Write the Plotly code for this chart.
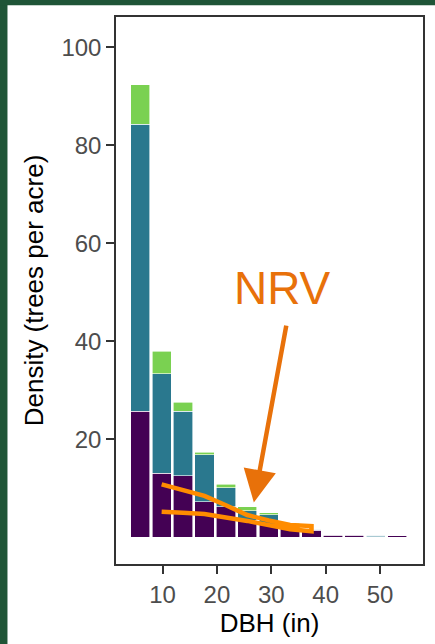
import plotly.graph_objects as go

# DBH bin centers (10 cm classes expressed in inches)
dbh_cm = [15, 25, 35, 45, 55, 65, 75, 85, 95, 105, 115, 125, 135]
dbh_in = [c / 2.54 for c in dbh_cm]

purple_vals = [25.7, 13.0, 12.5, 7.2, 6.2, 3.4, 2.5, 1.7, 1.4, 0.35, 0.35, 0.1, 0.3]
teal_vals = [58.6, 20.3, 13.2, 9.6, 3.85, 2.0, 2.1, 1.05, 0.2, 0.15, 0.15, 0.25, 0.0]
green_vals = [8.1, 4.6, 1.85, 0.5, 0.7, 0.8, 0.35, 0.15, 0.0, 0.0, 0.0, 0.0, 0.0]

# NRV bounds for bins 2..9
nrv_x = dbh_in[1:9]
nrv_upper = [10.75, 9.6, 8.4, 6.5, 4.5, 3.4, 2.45, 2.25]
nrv_lower = [5.15, 4.95, 4.7, 4.0, 3.3, 2.5, 1.6, 1.2]

y_ticks = [20, 40, 60, 80, 100]
x_ticks = [10, 20, 30, 40, 50]

bin_w = 10 / 2.54
bar_w = bin_w * 0.9

fig = go.Figure()
for vals, col in [(purple_vals, "#440154"), (teal_vals, "#2a788e"), (green_vals, "#7ad151")]:
    fig.add_trace(go.Bar(x=dbh_in, y=vals, width=[bar_w] * len(dbh_in),
                         marker=dict(color=col, line=dict(color="white", width=0.6)),
                         showlegend=False))

fig.add_trace(go.Scatter(x=nrv_x + nrv_x[::-1], y=nrv_upper + nrv_lower[::-1],
                         mode="lines", line=dict(color="#ff8c00", width=4.5),
                         showlegend=False))

font_family = "Liberation Sans, Arial, sans-serif"
orange = "#e8710a"

fig.update_layout(
    width=435, height=644,
    margin=dict(l=116, r=12, t=17, b=80),
    paper_bgcolor="white", plot_bgcolor="white",
    barmode="stack",
    font=dict(family=font_family),
    xaxis=dict(range=[1.45, 57.9], tickvals=x_ticks, ticks="outside", ticklen=8,
               tickwidth=1.5, tickcolor="#333333", showgrid=False, zeroline=False,
               showline=True, mirror=True, linecolor="#333333", linewidth=1.5,
               automargin=False,
               tickfont=dict(size=24, color="#4d4d4d"),
               title=dict(text="DBH (in)", font=dict(size=26, color="black"), standoff=4)),
    yaxis=dict(range=[-5.5, 106.2], tickvals=y_ticks, ticks="outside", ticklen=8,
               tickwidth=1.5, tickcolor="#333333", showgrid=False, zeroline=False,
               showline=True, mirror=True, linecolor="#333333", linewidth=1.5,
               automargin=False,
               tickfont=dict(size=24, color="#4d4d4d"),
               title=dict(text="Density (trees per acre)", font=dict(size=26, color="black"),
                          standoff=10)),
    annotations=[
        dict(x=26.8, y=7.07, xref="x", yref="y", ax=32.7, ay=-178.3,
             showarrow=True, arrowcolor=orange, arrowwidth=4.5, arrowhead=2,
             arrowsize=1.45, text=""),
        dict(x=32.15, y=50.8, xref="x", yref="y", text="NRV", showarrow=False,
             font=dict(size=46, color=orange, family=font_family)),
    ],
    shapes=[
        dict(type="rect", xref="paper", yref="paper", x0=-0.40, x1=-0.3535,
             y0=-0.2, y1=1.05, fillcolor="#1f5537", line=dict(width=0), layer="above"),
        dict(type="rect", xref="paper", yref="paper", x0=-0.40, x1=1.05,
             y0=1.0214, y1=1.05, fillcolor="#1f5537", line=dict(width=0), layer="above"),
    ],
)

fig.write_html("out.html", config={"displayModeBar": False},
               post_script="document.body.style.margin='0';document.body.style.padding='0';")
